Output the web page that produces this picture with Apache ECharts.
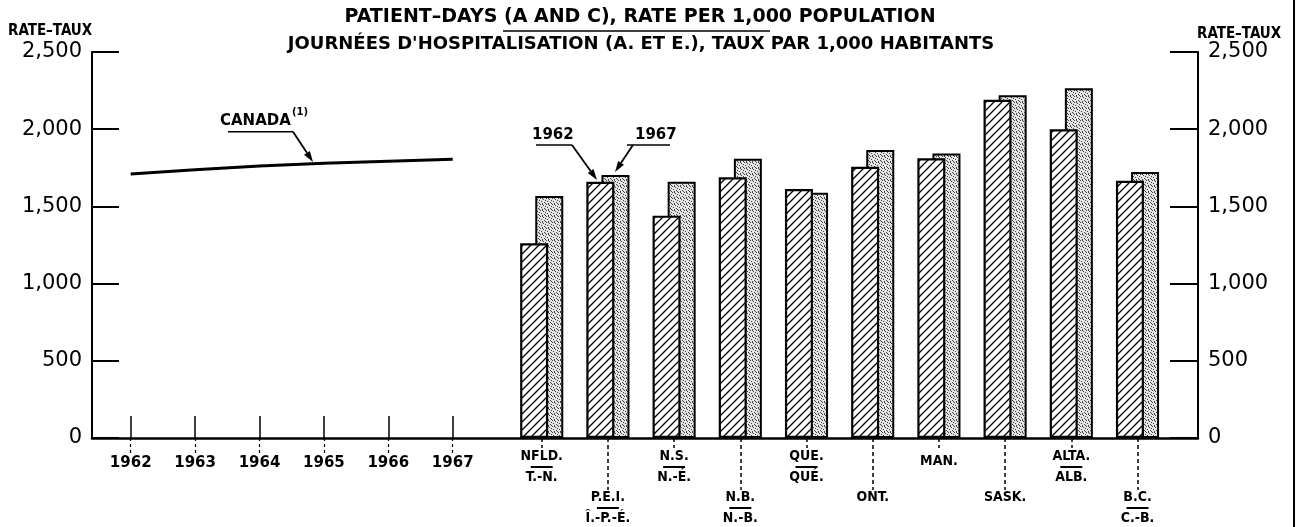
<!DOCTYPE html>
<html>
<head>
<meta charset="utf-8">
<script src="https://cdn.jsdelivr.net/npm/echarts@6/dist/echarts.min.js"></script>
<style>
  html, body { margin: 0; padding: 0; background: #fff; }
  #chart { width: 1300px; height: 527px; }
</style>
</head>
<body>
<div id="chart"></div>
<script>
// data
const years = ['1962', '1963', '1964', '1965', '1966', '1967'];
const canadaRate = [1710, 1738, 1762, 1779, 1793, 1805];

const provinces = ['NFLD.', 'P.E.I.', 'N.S.', 'N.B.', 'QUE.', 'ONT.', 'MAN.', 'SASK.', 'ALTA.', 'B.C.'];
const provincesFr = ['T.-N.', 'Î.-P.-É.', 'N.-É.', 'N.-B.', 'QUÉ.', '', '', '', 'ALB.', 'C.-B.'];
const rate1962 = [1261, 1660, 1440, 1689, 1613, 1757, 1812, 2190, 2000, 1666];
const rate1967 = [1567, 1704, 1660, 1809, 1589, 1866, 1842, 2220, 2265, 1722];

const rateTicks = [0, 500, 1000, 1500, 2000, 2500];

const FONT = 'DejaVu Sans';
const FONT_C = 'DejaVu Sans Condensed';

// fill patterns for the bars
function hatchPattern() {
    const c = document.createElement('canvas');
    c.width = 8; c.height = 8;
    const g = c.getContext('2d');
    g.fillStyle = '#fff';
    g.fillRect(0, 0, 8, 8);
    g.strokeStyle = '#000';
    g.lineWidth = 1.3;
    g.beginPath();
    g.moveTo(-1, 9); g.lineTo(9, -1);
    g.moveTo(-1, 1); g.lineTo(1, -1);
    g.moveTo(7, 9); g.lineTo(9, 7);
    g.stroke();
    return c;
}

function stipplePattern() {
    const c = document.createElement('canvas');
    c.width = 6; c.height = 6;
    const g = c.getContext('2d');
    g.fillStyle = '#e4e4e4';
    g.fillRect(0, 0, 6, 6);
    g.fillStyle = '#444';
    [[0, 0], [3, 1], [1, 3], [4, 4], [5, 2], [2, 5], [2, 0], [5, 5]].forEach(p => g.fillRect(p[0], p[1], 1, 1));
    return c;
}

function arrow(x1, y1, x2, y2) {
    const dx = x2 - x1, dy = y2 - y1, len = Math.hypot(dx, dy);
    const ux = dx / len, uy = dy / len, h = 11, w = 3.5;
    const bx = x2 - ux * h, by = y2 - uy * h;
    return [
        { type: 'line', silent: true, shape: { x1: x1, y1: y1, x2: bx, y2: by }, style: { stroke: '#000', lineWidth: 1.8 } },
        { type: 'polygon', silent: true, shape: { points: [[x2, y2], [bx - uy * w, by + ux * w], [bx + uy * w, by - ux * w]] }, style: { fill: '#000' } }
    ];
}

function hline(x1, x2, y, w) {
    return { type: 'line', silent: true, shape: { x1: x1, y1: y, x2: x2, y2: y }, style: { stroke: '#000', lineWidth: w || 1.5 } };
}

function label(text, x, y, size, weight, family) {
    return {
        type: 'text', silent: true, x: x, y: y,
        style: { text: text, fill: '#000', fontSize: size, fontWeight: weight || 'normal', fontFamily: family || FONT, align: 'left', verticalAlign: 'middle' }
    };
}

const provLabelRich = {
    a: { fontFamily: FONT_C, fontWeight: 'bold', fontSize: 14, lineHeight: 17, color: '#000' },
    m: { fontFamily: FONT_C, fontWeight: 'bold', fontSize: 14, lineHeight: 17, color: '#000', padding: [10, 0, 0, 0] },
    ln: { width: 22, height: 2, lineHeight: 4, backgroundColor: '#000', fontSize: 1 }
};

function provFormatter(v, i) {
    const fr = provincesFr[i];
    if (!fr) return v === 'MAN.' ? '{m|' + v + '}' : '{a|' + v + '}';
    return '{a|' + v + '}\n{ln| }\n{a|' + fr + '}';
}

const yRange = {
    min: rateTicks[0],
    max: rateTicks[rateTicks.length - 1],
    interval: rateTicks[1] - rateTicks[0]
};

const myChart = echarts.init(document.getElementById('chart'));

const gridBase = { top: 52, bottom: 89, outerBoundsMode: 'none', containLabel: false };
const dashedTick = { color: '#000', width: 1.5, type: [4, 3] };

const option = {
    animation: false,
    backgroundColor: '#fff',
    title: [
        {
            text: 'PATIENT–DAYS (A AND C), RATE PER 1,000 POPULATION',
            left: 640, top: 8, textAlign: 'center', padding: 0,
            textStyle: { fontFamily: FONT, fontSize: 19, fontWeight: 'bold', color: '#000' }
        },
        {
            text: 'JOURNÉES D\'HOSPITALISATION (A. ET E.), TAUX PAR 1,000 HABITANTS',
            left: 641, top: 35, textAlign: 'center', padding: 0,
            textStyle: { fontFamily: FONT, fontSize: 18, fontWeight: 'bold', color: '#000' }
        }
    ],
    grid: [
        Object.assign({ left: 92, right: 102 }, gridBase),
        Object.assign({ left: 98.5, width: 386.4 }, gridBase),
        Object.assign({ left: 508.6, width: 662 }, gridBase)
    ],
    xAxis: [
        {
            gridIndex: 0, type: 'value', min: 0, max: 1, position: 'bottom',
            axisLine: { show: true, lineStyle: { color: '#000', width: 2.5 } },
            axisTick: { show: false }, axisLabel: { show: false }, splitLine: { show: false }
        },
        {
            gridIndex: 1, type: 'category', data: years, position: 'bottom',
            axisLine: { show: false },
            axisTick: { show: true, alignWithLabel: true, length: 16, lineStyle: { color: '#000', width: 1.2, type: [3, 3] } },
            axisLabel: { margin: 18, color: '#000', fontFamily: FONT, fontWeight: 'bold', fontSize: 15 }
        },
        {
            gridIndex: 1, type: 'category', data: years, position: 'bottom',
            axisLine: { show: false },
            axisTick: { show: true, inside: true, alignWithLabel: true, length: 22, lineStyle: { color: '#000', width: 1.5 } },
            axisLabel: { show: false }
        },
        {
            gridIndex: 2, type: 'category', data: provinces, position: 'bottom',
            axisLine: { show: false },
            axisTick: { show: true, alignWithLabel: true, length: 10, interval: (i) => i % 2 === 0, lineStyle: dashedTick },
            axisLabel: { margin: 10, interval: (i) => i % 2 === 0, formatter: provFormatter, rich: provLabelRich }
        },
        {
            gridIndex: 2, type: 'category', data: provinces, position: 'bottom',
            axisLine: { show: false },
            axisTick: { show: true, alignWithLabel: true, length: 52, interval: (i) => i % 2 === 1, lineStyle: dashedTick },
            axisLabel: { margin: 51, interval: (i) => i % 2 === 1, formatter: provFormatter, rich: provLabelRich }
        }
    ],
    yAxis: [
        Object.assign({
            gridIndex: 0, type: 'value', position: 'left',
            axisLine: { show: true, lineStyle: { color: '#000', width: 2 } },
            axisTick: { show: true, inside: true, length: 27, lineStyle: { color: '#000', width: 2 } },
            axisLabel: { margin: 10, color: '#000', fontFamily: FONT, fontSize: 21, formatter: (v) => v.toLocaleString('en-US') },
            splitLine: { show: false }
        }, yRange),
        Object.assign({
            gridIndex: 0, type: 'value', position: 'right',
            axisLine: { show: true, lineStyle: { color: '#000', width: 2 } },
            axisTick: { show: true, inside: true, length: 28, lineStyle: { color: '#000', width: 2 } },
            axisLabel: { margin: 10, color: '#000', fontFamily: FONT, fontSize: 21, formatter: (v) => v.toLocaleString('en-US') },
            splitLine: { show: false }
        }, yRange),
        Object.assign({ gridIndex: 1, type: 'value', show: false, splitLine: { show: false } }, yRange),
        Object.assign({ gridIndex: 2, type: 'value', show: false, splitLine: { show: false } }, yRange)
    ],
    series: [
        {
            name: 'CANADA', type: 'line', xAxisIndex: 1, yAxisIndex: 2,
            data: canadaRate, symbol: 'none',
            lineStyle: { color: '#000', width: 3 }
        },
        {
            name: '1962', type: 'bar', xAxisIndex: 3, yAxisIndex: 3, z: 3,
            data: rate1962, barWidth: 28, barGap: '-46%',
            itemStyle: { color: { image: hatchPattern(), repeat: 'repeat' }, borderColor: '#000', borderWidth: 2.2 }
        },
        {
            name: '1967', type: 'bar', xAxisIndex: 3, yAxisIndex: 3, z: 2,
            data: rate1967, barWidth: 28,
            itemStyle: { color: { image: stipplePattern(), repeat: 'repeat' }, borderColor: '#000', borderWidth: 2 }
        }
    ],
    graphic: [
        hline(503, 770, 31, 1.5),
        label('RATE–TAUX', 8, 31, 15, 'bold', FONT_C),
        label('RATE–TAUX', 1197, 34, 15, 'bold', FONT_C),
        label('CANADA', 220, 121, 15, 'bold'),
        label('(1)', 292, 112, 10, 'bold'),
        hline(228, 293, 131.7),
        ...arrow(293, 131.7, 313, 162),
        label('1962', 532, 135, 15, 'bold'),
        hline(536, 572, 145),
        ...arrow(572, 145, 597, 180),
        label('1967', 635, 135, 15, 'bold'),
        hline(627, 670, 145),
        ...arrow(633, 145, 615, 172),
        { type: 'line', silent: true, shape: { x1: 1294, y1: 0, x2: 1294, y2: 527 }, style: { stroke: '#000', lineWidth: 2 } }
    ]
};

myChart.setOption(option);
window.addEventListener('resize', () => myChart.resize());
</script>
</body>
</html>
